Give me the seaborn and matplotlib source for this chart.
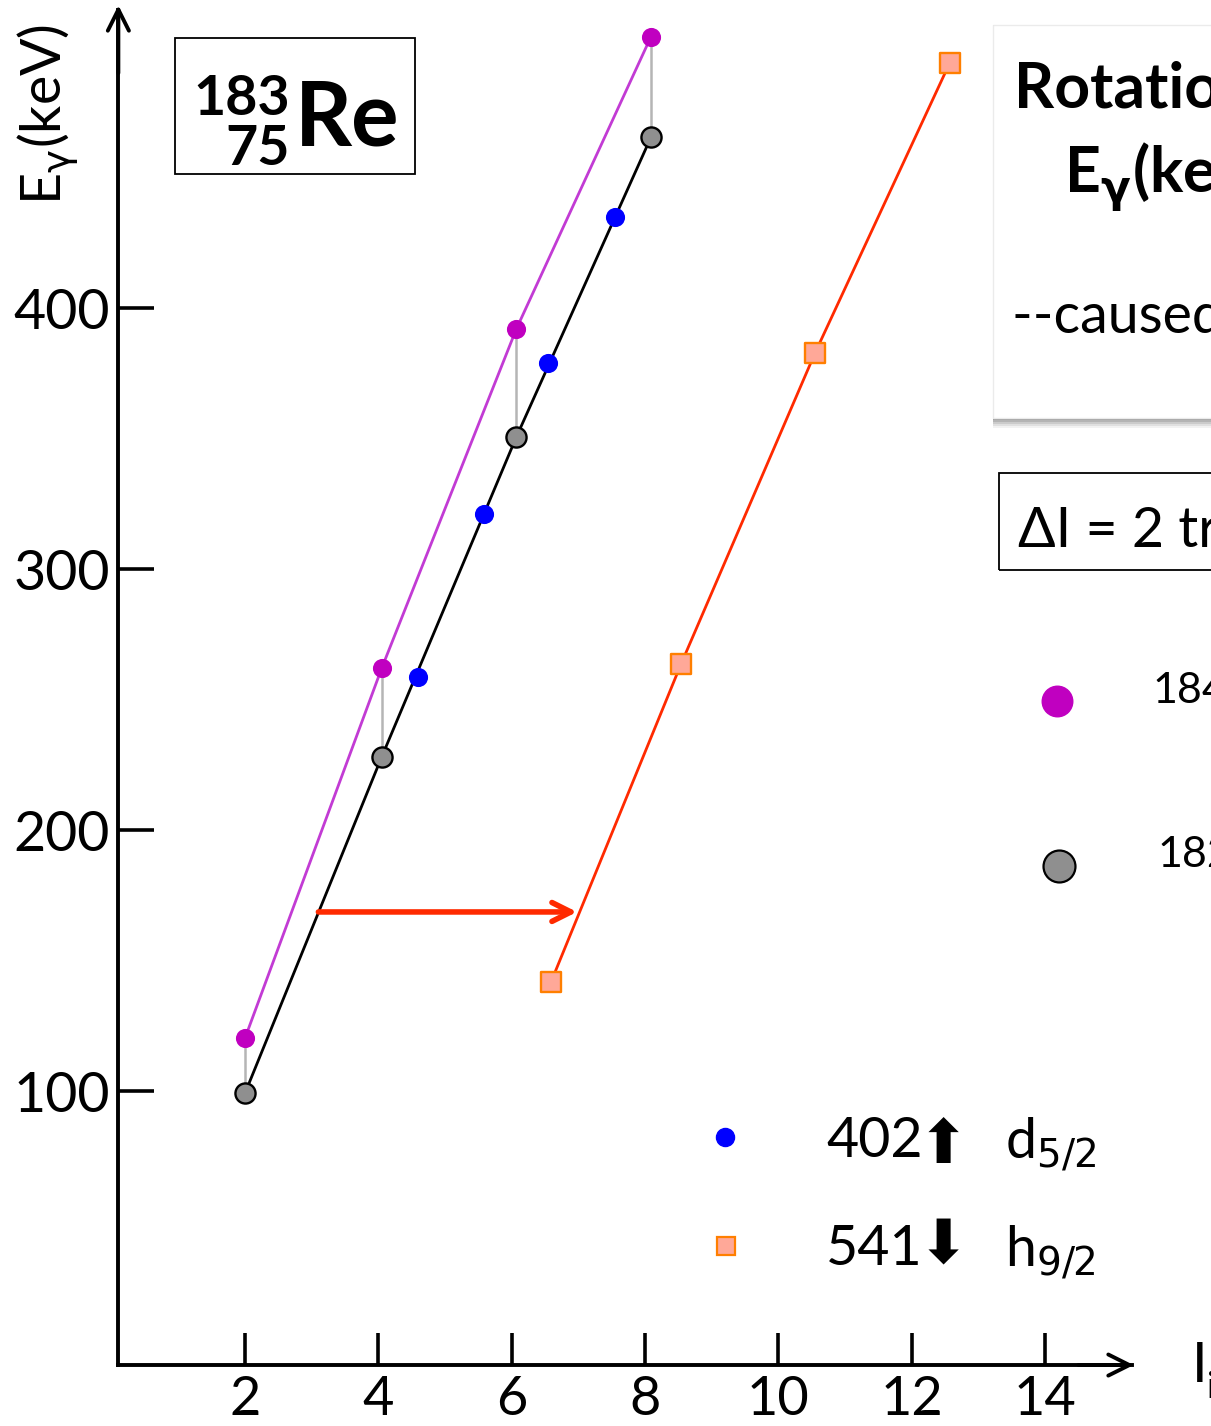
import matplotlib
matplotlib.use("Agg")
import matplotlib.pyplot as plt
import matplotlib.patches as mpatches
import seaborn as sns
import pandas as pd

# ---------------- data ----------------
spin_os184 = [2.0, 4.05, 6.07, 8.09]
egamma_os184 = [120.3, 262.0, 392.0, 504.0]

spin_w182 = [2.0, 4.05, 6.07, 8.09]
egamma_w182 = [99.2, 228.0, 350.6, 465.5]

spin_d52 = [4.6, 5.59, 6.55, 7.55]
egamma_d52 = [258.6, 321.0, 379.0, 435.0]

spin_h92 = [6.59, 8.54, 10.55, 12.57]
egamma_h92 = [141.8, 263.6, 382.8, 493.9]

x_ticks = [2, 4, 6, 8, 10, 12, 14]
y_ticks = [100, 200, 300, 400]

shift_arrow_start = (3.1, 168.6)
shift_arrow_end = (6.98, 168.6)

# ---------------- style ----------------
sns.set_theme(style="white")
plt.rcParams['font.family'] = ['Lato', 'DejaVu Sans']
plt.rcParams['mathtext.fontset'] = 'dejavusans'

W, H = 1211, 1426
fig = plt.figure(figsize=(W / 100, H / 100), dpi=100)
ax = fig.add_axes([0, 0, 1, 1])
ax.set_facecolor("white")
fig.patch.set_facecolor("white")

# pixel mapping: x px = 111.7 + 66.67*I ; y px = 1352 - 2.61*E
ax.set_xlim(-111.7 / 66.67, (W - 111.7) / 66.67)
ax.set_ylim((1352 - H) / 2.61, 1352 / 2.61)

MAG_LINE = "#C23BD4"
MAG = "#C000C0"
GRAY = "#8F8F8F"
BLUE = "#0000FF"
RED = "#FF2A00"
SQ_FILL = "#FFA898"
SQ_EDGE = "#FF7F00"

df_os = pd.DataFrame({"I": spin_os184, "E": egamma_os184})
df_w = pd.DataFrame({"I": spin_w182, "E": egamma_w182})
df_d = pd.DataFrame({"I": spin_d52, "E": egamma_d52})
df_h = pd.DataFrame({"I": spin_h92, "E": egamma_h92})

# gray connectors between 184Os and 182W
for xi, y1, y2 in zip(spin_w182, egamma_os184, egamma_w182):
    ax.plot([xi, xi], [y1, y2], color="#B5B5B5", lw=1.8, zorder=1)

sns.lineplot(data=df_os, x="I", y="E", sort=False, color=MAG_LINE, lw=2.0, ax=ax, zorder=2)
sns.lineplot(data=df_w, x="I", y="E", sort=False, color="black", lw=2.0, ax=ax, zorder=2)
sns.lineplot(data=df_h, x="I", y="E", sort=False, color=RED, lw=2.0, ax=ax, zorder=2)

sns.scatterplot(data=df_os, x="I", y="E", color=MAG, s=190, marker="o", linewidth=0, ax=ax, zorder=4)
sns.scatterplot(data=df_w, x="I", y="E", color=GRAY, s=210, marker="o", edgecolor="black", linewidth=1.7, ax=ax, zorder=4)
sns.scatterplot(data=df_d, x="I", y="E", color=BLUE, s=190, marker="o", linewidth=0, ax=ax, zorder=4)
sns.scatterplot(data=df_h, x="I", y="E", color=SQ_FILL, s=210, marker="s", edgecolor=SQ_EDGE, linewidth=1.7, ax=ax, zorder=4)

# red shift arrow
ax.annotate("", xy=shift_arrow_end, xytext=shift_arrow_start,
            arrowprops=dict(arrowstyle="->", color=RED, lw=4.0, mutation_scale=34,
                            shrinkA=0, shrinkB=0, capstyle="round", joinstyle="round"), zorder=3)

# ---------------- axes ----------------
ax.set_xlabel("")
ax.set_ylabel("")
for s in ["top", "right"]:
    ax.spines[s].set_visible(False)
x0_axis = 0.1
y0_axis = -5
ax.spines["left"].set_position(("data", x0_axis))
ax.spines["bottom"].set_position(("data", y0_axis))
ax.spines["left"].set_bounds(y0_axis, 514)
ax.spines["bottom"].set_bounds(x0_axis, 15.3)
for s in ["left", "bottom"]:
    ax.spines[s].set_color("black")
    ax.spines[s].set_linewidth(2.8)

ax.annotate("", xy=(x0_axis, 516), xytext=(x0_axis, 490),
            arrowprops=dict(arrowstyle="->", color="black", lw=2.8, mutation_scale=38,
                            shrinkA=0, shrinkB=0, capstyle="round", joinstyle="round"))
ax.annotate("", xy=(15.33, y0_axis), xytext=(14.5, y0_axis),
            arrowprops=dict(arrowstyle="->", color="black", lw=2.8, mutation_scale=38,
                            shrinkA=0, shrinkB=0, capstyle="round", joinstyle="round"))

ax.set_xticks(x_ticks)
ax.set_xticklabels([str(v) for v in x_ticks])
ax.set_yticks(y_ticks)
ax.set_yticklabels([str(v) for v in y_ticks])
ax.tick_params(axis="x", direction="in", length=23, width=2.6, labelsize=39, pad=7, colors="black")
ax.tick_params(axis="y", direction="in", length=26, width=2.6, labelsize=40, pad=6, colors="black")
ax.tick_params(bottom=True, left=True)

# axis labels
fig.text(48 / W, 1 - 114 / H, r"E$_\mathrm{\gamma}$(keV)", rotation=90, ha="center", va="center",
         fontsize=40, color="black")
fig.text(1192 / W, 1 - 1382 / H, "I", ha="left", va="baseline", fontsize=40, color="black")
fig.text(1207 / W, 1 - 1398 / H, "i", ha="left", va="baseline", fontsize=26, color="black")

# ---------------- nucleus box ----------------
fig.patches.append(mpatches.Rectangle((175 / W, 1 - 174 / H), 240 / W, 136 / H,
                                      transform=fig.transFigure, fill=False,
                                      edgecolor="black", lw=1.3))
fig.text(290 / W, 1 - 115 / H, "183", ha="right", va="baseline", fontsize=40,
         fontweight="bold", color="black")
fig.text(290 / W, 1 - 165 / H, "75", ha="right", va="baseline", fontsize=40,
         fontweight="bold", color="black")
fig.text(295 / W, 1 - 145 / H, "Re", ha="left", va="baseline", fontsize=64,
         fontweight="bold", color="black")

# ---------------- right info panel (cropped) ----------------
for k, a in enumerate([0.05, 0.07, 0.09, 0.11, 0.13]):
    off = 10 - 2 * k
    fig.patches.append(mpatches.Rectangle((993 / W, 1 - (418 + off) / H), 260 / W, (393 + off) / H,
                                          transform=fig.transFigure, facecolor="black",
                                          edgecolor="none", alpha=a))
fig.patches.append(mpatches.Rectangle((993 / W, 1 - 418 / H), 260 / W, 393 / H,
                                      transform=fig.transFigure, facecolor="white",
                                      edgecolor="#EBEBEB", lw=1.0))
fig.text(1014 / W, 1 - 107 / H, "Rotational bands", ha="left", va="baseline", fontsize=45,
         fontweight="bold", color="black")
fig.text(1064 / W, 1 - 193 / H, r"E$_\mathbf{\gamma}$(keV)", ha="left", va="baseline", fontsize=45,
         fontweight="bold", color="black")
fig.text(1012 / W, 1 - 333 / H, "--caused by", ha="left", va="baseline", fontsize=40,
         color="black")

fig.patches.append(mpatches.Rectangle((999 / W, 1 - 570 / H), 260 / W, 97 / H,
                                      transform=fig.transFigure, fill=False,
                                      edgecolor="black", lw=1.3))
fig.text(1018 / W, 1 - 547 / H, "ΔI = 2 transitions", ha="left", va="baseline", fontsize=40,
         color="black")

# legend on the right
ax.plot([(1057 - 111.7) / 66.67], [(1352 - 701) / 2.61], marker="o", ms=22, color=MAG,
        mec=MAG, lw=0, clip_on=False)
ax.plot([(1059 - 111.7) / 66.67], [(1352 - 866) / 2.61], marker="o", ms=23, color=GRAY,
        mec="black", mew=1.6, lw=0, clip_on=False)
fig.text(1152 / W, 1 - 703 / H, "184Os", ha="left", va="baseline", fontsize=31, color="black")
fig.text(1157 / W, 1 - 867 / H, "182W", ha="left", va="baseline", fontsize=31, color="black")

# legend at the bottom
ax.plot([(725 - 111.7) / 66.67], [(1352 - 1137) / 2.61], marker="o", ms=13, color=BLUE,
        mec=BLUE, lw=0)
ax.plot([(726 - 111.7) / 66.67], [(1352 - 1246) / 2.61], marker="s", ms=13, color=SQ_FILL,
        mec=SQ_EDGE, mew=1.6, lw=0)
arrow_fam = ["DejaVu Sans", "Noto Sans"]
fig.text(826 / W, 1 - 1157 / H, "402", ha="left", va="baseline", fontsize=40, color="black")
fig.text(918 / W, 1 - 1163 / H, "⬆", ha="left", va="baseline", fontsize=44, color="black",
         family=arrow_fam)
fig.text(1005 / W, 1 - 1157 / H, r"d$_{5/2}$", ha="left", va="baseline", fontsize=40, color="black")
fig.text(826 / W, 1 - 1265 / H, "541", ha="left", va="baseline", fontsize=40, color="black")
fig.text(918 / W, 1 - 1262 / H, "⬇", ha="left", va="baseline", fontsize=44, color="black",
         family=arrow_fam)
fig.text(1005 / W, 1 - 1265 / H, r"h$_{9/2}$", ha="left", va="baseline", fontsize=40, color="black")

fig.savefig("out.png", dpi=100, facecolor="white")
